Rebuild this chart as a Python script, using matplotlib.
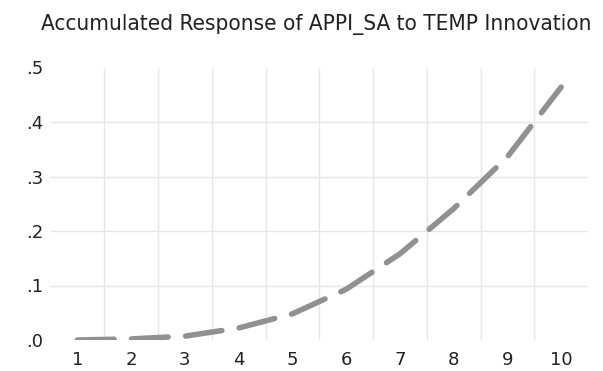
import numpy as np
import matplotlib.pyplot as plt

# accumulated impulse response, periods 1..10
periods = [1, 2, 3, 4, 5, 6, 7, 8, 9, 10]
response = [0.000, 0.002, 0.007, 0.022, 0.048, 0.093, 0.158, 0.241, 0.336, 0.464]
ytick_vals = [0.0, 0.1, 0.2, 0.3, 0.4, 0.5]
ytick_labels = ['.0', '.1', '.2', '.3', '.4', '.5']

fig = plt.figure(figsize=(6.03, 3.71), dpi=100)
ax = fig.add_axes([50.5 / 603, 1 - 340 / 371, (588 - 50.5) / 603, (340 - 67.5) / 371])

# grid: lines between periods, horizontal lines at inner ticks only
grid_col = '#e6e6e6'
ax.vlines(np.arange(1.5, 10.5, 1.0), 0, 0.5, colors=grid_col, lw=1.0, zorder=1)
ax.hlines(ytick_vals[1:-1], 0.5, 10.5, colors=grid_col, lw=1.0, zorder=1)

ax.plot(periods, response, color='#919191', lw=4.0, dashes=(6.6, 3.15),
        dash_capstyle='round', zorder=3)

ax.set_xlim(0.5, 10.5)
ax.set_ylim(0, 0.5)
ax.set_xticks(periods)
ax.set_xticklabels([str(p) for p in periods])
ax.set_yticks(ytick_vals)
ax.set_yticklabels(ytick_labels)
ax.tick_params(length=0, labelsize=13, colors='#222222')
ax.tick_params(axis='x', pad=8)
ax.tick_params(axis='y', pad=5)
for s in ax.spines.values():
    s.set_visible(False)

fig.text(316 / 603, 1 - 30 / 371, 'Accumulated Response of APPI_SA to TEMP Innovation',
         ha='center', va='baseline', fontsize=16.1, fontstretch='condensed',
         color='#222222')

fig.savefig('out.png', dpi=100)
